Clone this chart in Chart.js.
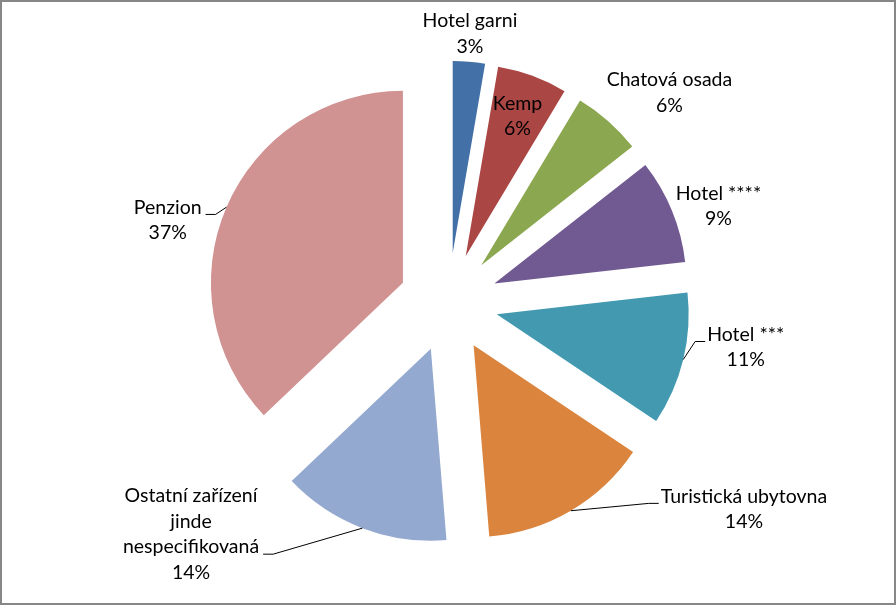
<!DOCTYPE html>
<html>
<head>
<meta charset="utf-8">
<script src="https://cdn.jsdelivr.net/npm/chart.js@4.4.1/dist/chart.umd.min.js"></script>
<style>
  html, body { margin: 0; padding: 0; background: #fff; }
  #wrap {
    position: absolute; left: 0; top: 0;
    width: 896px; height: 605px;
    box-sizing: border-box;
    border: 2px solid #878787;
    background: #fff;
  }
  #wrap canvas { display: block; }
</style>
</head>
<body>
<div id="wrap"><canvas id="myChart"></canvas></div>
<script>
// data (share of capacity, %)
const categories = [
    'Hotel garni',
    'Kemp',
    'Chatová osada',
    'Hotel ****',
    'Hotel ***',
    'Turistická ubytovna',
    'Ostatní zařízení\njinde\nnespecifikovaná',
    'Penzion'
];
const shares = [2.7, 5.9, 5.8, 8.8, 11.2, 14.3, 14.2, 37.1];
const sliceColors = ['#4470A8', '#AA4644', '#8BA74F', '#715A92', '#4299B0', '#DB843D', '#94A9D0', '#D19392'];

// how far each slice is pulled out from the centre
const EXPLODE = 49.6;

// label placement: extra distance past the slice edge, angle nudge (deg), leader line row
const labelLayout = [
    { dr: 28, da: -0.3, leader: null },
    { dr: -43, da: 0, leader: null },
    { dr: 63, da: 5.1, leader: null },
    { dr: 45, da: 2.7, leader: null },
    { dr: 59, da: -5.1, leader: 0 },
    { dr: 119, da: -24.6, leader: 0 },
    { dr: 105, da: 27.1, leader: 2 },
    { dr: 51, da: -6.9, leader: 0 }
];

const LABEL_FONT = '19.5px Lato';
const LINE_H = 25.5;

// pull every slice out along its middle angle (Excel style exploded pie)
const ArcEl = Chart.ArcElement || Chart.elements.ArcElement;
const baseArcDraw = ArcEl.prototype.draw;
ArcEl.prototype.draw = function (ctx, area) {
    const mid = (this.startAngle + this.endAngle) / 2;
    ctx.save();
    ctx.translate(Math.cos(mid) * EXPLODE, Math.sin(mid) * EXPLODE);
    baseArcDraw.call(this, ctx, area);
    ctx.restore();
};

const pieLabels = {
    id: 'pieLabels',
    afterDatasetsDraw(chart) {
        const ctx = chart.ctx;
        const meta = chart.getDatasetMeta(0);
        const values = chart.data.datasets[0].data;
        const total = values.reduce((a, b) => a + b, 0);
        ctx.save();
        ctx.font = LABEL_FONT;
        ctx.fillStyle = '#000';
        ctx.strokeStyle = '#000';
        ctx.lineWidth = 1;
        ctx.textAlign = 'center';
        ctx.textBaseline = 'middle';

        meta.data.forEach((arc, i) => {
            const lay = labelLayout[i];
            const mid = (arc.startAngle + arc.endAngle) / 2;
            const edgeR = arc.outerRadius + EXPLODE;
            const a = mid + lay.da * Math.PI / 180;
            const cx = arc.x + Math.cos(a) * (edgeR + lay.dr);
            const cy = arc.y + Math.sin(a) * (edgeR + lay.dr);

            const lines = chart.data.labels[i].split('\n');
            lines.push(Math.round(values[i] / total * 100) + '%');
            const top = cy - (lines.length - 1) * LINE_H / 2;
            lines.forEach((t, k) => ctx.fillText(t, cx, top + k * LINE_H));

            if (lay.leader !== null) {
                const w = Math.max(...lines.map(t => ctx.measureText(t).width));
                const right = cx > arc.x;
                const ex = right ? cx - w / 2 - 2 : cx + w / 2 + 4;
                const ey = top + lay.leader * LINE_H + 7;
                const tx = right ? ex - 10 : ex + 10;
                const px = arc.x + Math.cos(mid) * edgeR;
                const py = arc.y + Math.sin(mid) * edgeR;
                ctx.beginPath();
                ctx.moveTo(ex, ey);
                ctx.lineTo(tx, ey);
                ctx.lineTo(px, py);
                ctx.stroke();
            }
        });
        ctx.restore();
    }
};

const ctx = document.getElementById('myChart').getContext('2d');
const myChart = new Chart(ctx, {
    type: 'pie',
    data: {
        labels: categories,
        datasets: [{
            data: shares,
            backgroundColor: sliceColors,
            borderWidth: 0
        }]
    },
    options: {
        responsive: true,
        maintainAspectRatio: false,
        animation: false,
        layout: { padding: { top: 108.4, bottom: 108.6, left: 1, right: 0 } },
        plugins: {
            legend: { display: false },
            tooltip: { enabled: false }
        }
    },
    plugins: [pieLabels]
});
</script>
</body>
</html>
